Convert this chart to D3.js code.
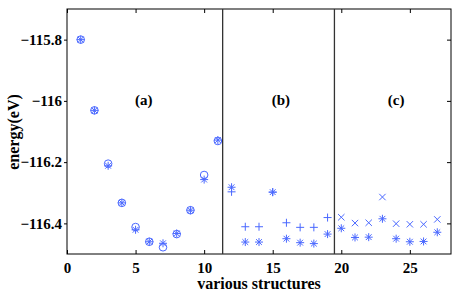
<!DOCTYPE html>
<html>
<head>
<meta charset="utf-8">
<script src="https://cdnjs.cloudflare.com/ajax/libs/d3/7.8.5/d3.min.js"></script>
<style>
body { margin: 0; background: #fff; }
text { font-family: "Liberation Serif", "Times New Roman", serif; font-weight: bold; }
</style>
</head>
<body>
<script>
// group (a): structures 1-11
var xa = [1, 2, 3, 4, 5, 6, 7, 8, 9, 10, 11];
var circA = [-115.800, -116.031, -116.205, -116.333, -116.412, -116.460, -116.478, -116.435, -116.357, -116.242, -116.131];
var starA = [-115.800, -116.031, -116.212, -116.333, -116.421, -116.460, -116.465, -116.433, -116.357, -116.257, -116.128];
// group (b): structures 12-19
var xb = [12, 13, 14, 15, 16, 17, 18, 19];
var plusB = [-116.297, -116.411, -116.411, -116.298, -116.398, -116.413, -116.413, -116.381];
var starB = [-116.282, -116.461, -116.461, -116.298, -116.450, -116.463, -116.466, -116.435];
// group (c): structures 20-27
var xc = [20, 21, 22, 23, 24, 25, 26, 27];
var crossC = [-116.380, -116.399, -116.398, -116.314, -116.401, -116.403, -116.403, -116.387];
var starC = [-116.416, -116.446, -116.445, -116.385, -116.450, -116.460, -116.459, -116.429];

var xTicks = [0, 5, 10, 15, 20, 25];
var yTicks = [-115.8, -116, -116.2, -116.4];
var dividers = [11.35, 19.5];
var panels = [{x: 5.6, t: "(a)"}, {x: 15.6, t: "(b)"}, {x: 24, t: "(c)"}];

var W = 469, H = 300;
var m = {left: 67, right: 18, top: 9, bottom: 46};
var blue = "#4a68ff";

var svg = d3.select("body").append("svg").attr("width", W).attr("height", H);

var x = d3.scaleLinear().domain([0, 28]).range([m.left, W - m.right]);
var y = d3.scaleLinear().domain([-116.5, -115.7]).range([H - m.bottom, m.top]);

function fmt(d) { return d3.format("")(d).replace("-", "\u2212"); }

// axes with inward ticks
svg.append("g").attr("transform", "translate(0," + (H - m.bottom) + ")")
    .call(d3.axisBottom(x).tickValues(xTicks).tickSize(-4).tickPadding(8).tickFormat(d3.format("d")))
    .call(function(g) {
        g.select(".domain").remove();
        g.selectAll("text").attr("font-size", 15).attr("font-family", "Liberation Serif").attr("font-weight", "bold").attr("fill", "#000");
    });
svg.append("g").attr("transform", "translate(" + m.left + ",0)")
    .call(d3.axisLeft(y).tickValues(yTicks).tickSize(3).tickPadding(2).tickFormat(fmt))
    .call(function(g) {
        g.select(".domain").remove();
        g.selectAll("text").attr("font-size", 15).attr("font-family", "Liberation Serif").attr("font-weight", "bold").attr("fill", "#000");
    });
svg.append("g").attr("transform", "translate(0," + m.top + ")")
    .call(d3.axisTop(x).tickValues(xTicks).tickSize(-4).tickFormat(""))
    .call(function(g) { g.select(".domain").remove(); });
svg.append("g").attr("transform", "translate(" + (W - m.right) + ",0)")
    .call(d3.axisRight(y).tickValues(yTicks).tickSize(-4).tickFormat(""))
    .call(function(g) { g.select(".domain").remove(); });

svg.append("rect")
    .attr("x", m.left).attr("y", m.top)
    .attr("width", W - m.left - m.right).attr("height", H - m.top - m.bottom)
    .attr("fill", "none").attr("stroke", "#000").attr("stroke-width", 1);

svg.selectAll("line.div").data(dividers).enter().append("line")
    .attr("class", "div")
    .attr("x1", function(d) { return x(d); }).attr("x2", function(d) { return x(d); })
    .attr("y1", m.top).attr("y2", H - m.bottom)
    .attr("stroke", "#333").attr("stroke-width", 1.3);

svg.selectAll("text.panel").data(panels).enter().append("text")
    .attr("class", "panel")
    .attr("x", function(d) { return x(d.x); })
    .attr("y", 105)
    .attr("text-anchor", "middle")
    .attr("font-size", 15)
    .text(function(d) { return d.t; });

// marker shapes
function plusPath(r) { return "M" + (-r) + ",0H" + r + "M0," + (-r) + "V" + r; }
function crossPath(r) { return "M" + (-r) + "," + (-r) + "L" + r + "," + r + "M" + (-r) + "," + r + "L" + r + "," + (-r); }
function starPath(r) { var k = r * 0.72; return plusPath(r) + crossPath(k); }

function drawMarks(xs, ys, pathStr) {
    svg.append("g").selectAll("path").data(xs).enter().append("path")
        .attr("transform", function(d, i) { return "translate(" + x(d) + "," + y(ys[i]) + ")"; })
        .attr("d", pathStr)
        .attr("fill", "none")
        .attr("stroke", blue)
        .attr("stroke-width", 1);
}

svg.append("g").selectAll("circle").data(xa).enter().append("circle")
    .attr("cx", function(d) { return x(d); })
    .attr("cy", function(d, i) { return y(circA[i]); })
    .attr("r", 3.8)
    .attr("fill", "none").attr("stroke", blue).attr("stroke-width", 1);

drawMarks(xa, starA, starPath(4));
drawMarks(xb, plusB, plusPath(4));
drawMarks(xb, starB, starPath(4));
drawMarks(xc, crossC, crossPath(3.2));
drawMarks(xc, starC, starPath(4));

svg.append("text")
    .attr("x", x(14)).attr("y", 289)
    .attr("text-anchor", "middle")
    .attr("font-size", 16)
    .text("various structures");

svg.append("text")
    .attr("transform", "translate(19," + 132 + ") rotate(-90)")
    .attr("text-anchor", "middle")
    .attr("font-size", 16)
    .text("energy(eV)");
</script>
</body>
</html>
